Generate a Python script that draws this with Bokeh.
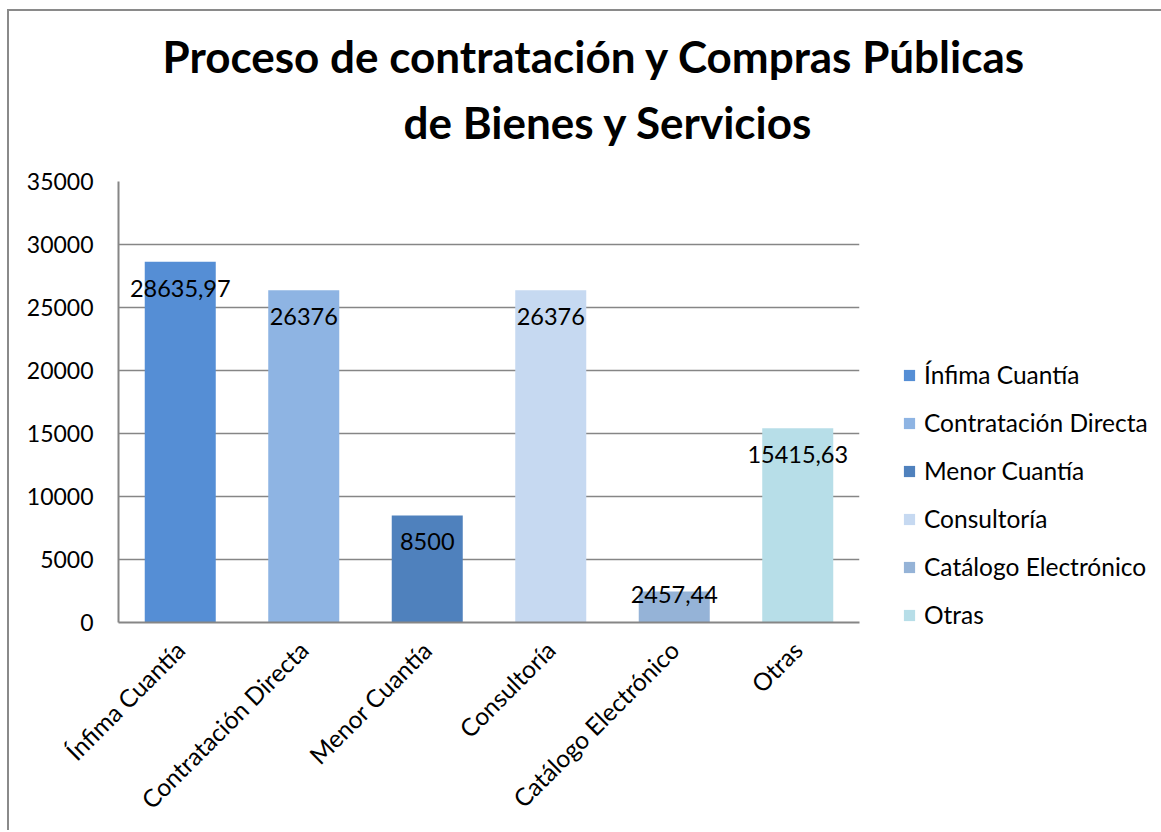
from bokeh.plotting import figure
from bokeh.models import ColumnDataSource, Range1d, Title, Legend, LegendItem, FixedTicker
from bokeh.core.properties import value
from bokeh.embed import file_html
from bokeh.resources import INLINE
import math

categories = ["Ínfima Cuantía", "Contratación Directa", "Menor Cuantía",
              "Consultoría", "Catálogo Electrónico", "Otras"]
values = [28635.97, 26376, 8500, 26376, 2457.44, 15415.63]
labels = ["28635,97", "26376", "8500", "26376", "2457,44", "15415,63"]
colors = ["#558ED5", "#8EB4E3", "#4F81BD", "#C6D9F1", "#95B3D7", "#B7DEE8"]
y_ticks = [0, 5000, 10000, 15000, 20000, 25000, 30000, 35000]
title_lines = ["Proceso de contratación y Compras Públicas", "de Bienes y Servicios"]

FONT = "Lato"
FL, FT = 109, 170
FRAME_W, FRAME_H = 741, 441

p = figure(x_range=categories, y_range=Range1d(0, 35000),
           frame_width=FRAME_W, frame_height=FRAME_H,
           output_backend="svg", toolbar_location=None,
           min_border_left=FL, min_border_top=FT, min_border_right=0, min_border_bottom=208)
p.styles = {"border-left": "2px solid #8a8a8a", "border-top": "2px solid #8a8a8a",
            "margin-left": "7px", "margin-top": "9px"}
p.outline_line_color = None

px_per_unit = FRAME_H / 35000.0
offsets = [18 if v * px_per_unit > 40 else -6 for v in values]

src = ColumnDataSource(dict(cat=categories, val=values, lab=labels, col=colors, off=offsets))
r = p.vbar(x="cat", top="val", width=0.575, fill_color="col", line_color=None, source=src)
p.text(x="cat", y="val", text="lab", y_offset="off", text_align="center", text_baseline="top",
       text_font=value(FONT), text_font_size="23.5px", text_color="black", source=src)

# axes
p.yaxis.ticker = FixedTicker(ticks=y_ticks)
p.ygrid.ticker = FixedTicker(ticks=y_ticks)
p.xgrid.grid_line_color = None
p.ygrid.grid_line_color = "#868686"
p.ygrid.grid_line_width = 1.5
for ax in (p.xaxis, p.yaxis):
    ax.axis_line_color = "#868686"
    ax.axis_line_width = 2
    ax.major_tick_line_color = None
    ax.minor_tick_line_color = None
    ax.major_label_text_font = FONT
    ax.major_label_text_color = "black"
p.yaxis.major_label_text_font_size = "23px"
p.xaxis.major_label_text_font_size = "24.5px"
p.yaxis.major_label_standoff = 19
p.xaxis.major_label_orientation = math.pi / 4
p.xaxis.major_label_standoff = 17

# title (two centred lines)
p.add_layout(Title(text=title_lines[1], align="left", offset=285, text_font=FONT,
                   text_font_size="44px", text_font_style="bold", text_color="black",
                   standoff=68), "above")
p.add_layout(Title(text=title_lines[0], align="left", offset=44, text_font=FONT,
                   text_font_size="44px", text_font_style="bold", text_color="black",
                   standoff=-45), "above")

# legend
items = [LegendItem(label=c, renderers=[r], index=i) for i, c in enumerate(categories)]
leg = Legend(items=items, location=(43, -7), orientation="vertical",
             glyph_width=14, glyph_height=14, label_standoff=8, spacing=19,
             label_text_font=FONT, label_text_font_size="24.5px", label_height=26,
             label_text_color="black",
             border_line_color=None, background_fill_alpha=0, padding=0, margin=0)
p.add_layout(leg, "right")

open("out.html", "w").write(file_html(p, INLINE))
